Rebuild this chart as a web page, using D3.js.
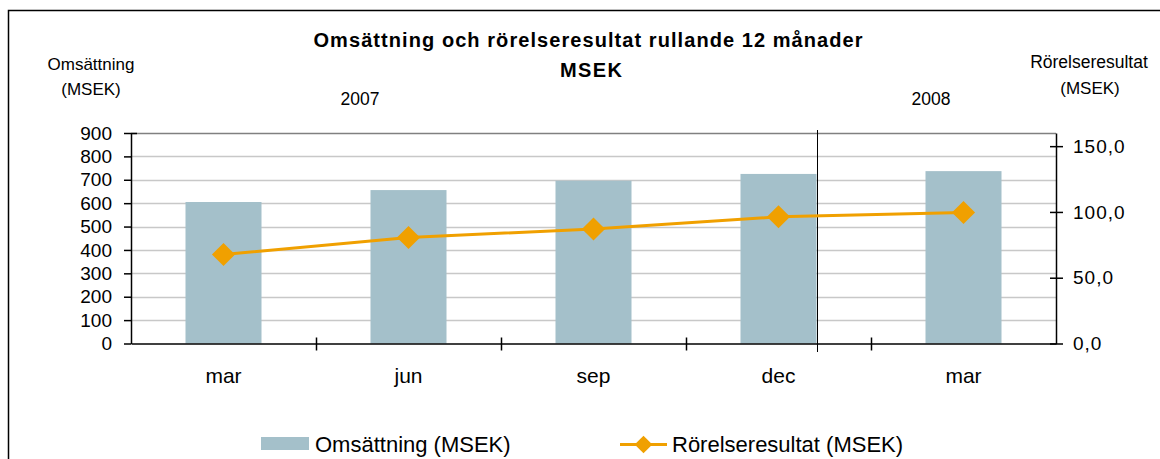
<!DOCTYPE html>
<html>
<head>
<meta charset="utf-8">
<script src="https://cdn.jsdelivr.net/npm/d3@7"></script>
<style>
  body { margin: 0; background: #fff; }
  text { font-family: "Liberation Sans", Arial, sans-serif; fill: #000; }
</style>
</head>
<body>
<script>
// data
var categories = ["mar", "jun", "sep", "dec", "mar "];
var catLabels = ["mar", "jun", "sep", "dec", "mar"];
var omsattning = [605, 656, 696, 725, 737];
var rorelse = [67.7, 80.6, 87.0, 96.3, 99.6];
var leftTicks = [0, 100, 200, 300, 400, 500, 600, 700, 800, 900];
var rightTicks = [0, 50, 100, 150];

var W = 1160, H = 459;
var plotL = 131, plotR = 1056, plotT = 133, plotB = 343.5;

var svg = d3.select("body").append("svg")
  .attr("width", W).attr("height", H);

// outer border
svg.append("rect")
  .attr("x", 8.5).attr("y", 10.5)
  .attr("width", 1170).attr("height", 470)
  .attr("fill", "none").attr("stroke", "#000").attr("stroke-width", 1.5);

var x = d3.scaleBand().domain(categories).range([plotL, plotR]);
var yL = d3.scaleLinear().domain([0, 900]).range([plotB, plotT]);
var yR = d3.scaleLinear().domain([0, 160]).range([plotB, plotT]);
var barW = 76;

// gridlines
svg.append("g").selectAll("line")
  .data(leftTicks.slice(1))
  .join("line")
  .attr("x1", plotL).attr("x2", plotR)
  .attr("y1", d => Math.round(yL(d)) + 0.5).attr("y2", d => Math.round(yL(d)) + 0.5)
  .attr("stroke", d => d == 900 ? "#808080" : "#c8c8c8")
  .attr("stroke-width", 1.5);

// bars
svg.append("g").selectAll("rect")
  .data(omsattning)
  .join("rect")
  .attr("x", (d, i) => x(categories[i]) + x.bandwidth() / 2 - barW / 2)
  .attr("y", d => yL(d))
  .attr("width", barW)
  .attr("height", d => yL(0) - yL(d))
  .attr("fill", "#a4c0ca");

// year divider between dec and mar
var divX = Math.round(x("dec") + x.bandwidth() / 2 + barW / 2) + 0.5;
svg.append("line")
  .attr("x1", divX).attr("x2", divX)
  .attr("y1", 130).attr("y2", 352)
  .attr("stroke", "#000").attr("stroke-width", 1);

// left axis
var gL = svg.append("g").attr("transform", "translate(" + plotL + ",0)")
  .call(d3.axisLeft(yL).tickValues(leftTicks).tickSize(0).tickPadding(19));
gL.select(".domain").attr("stroke", "#000").attr("stroke-width", 1.5);
gL.selectAll("text").style("font-size", "19px").attr("fill", "#000");
gL.selectAll(".tick").append("line")
  .attr("x1", -7).attr("x2", d => d == 900 ? 6 : 0).attr("stroke", "#000").attr("stroke-width", 1.5);

// right axis
var gR = svg.append("g").attr("transform", "translate(" + plotR + ",0)")
  .call(d3.axisRight(yR).tickValues(rightTicks).tickSize(0).tickPadding(17)
    .tickFormat(d => d3.format(".1f")(d).replace(".", ",")));
gR.select(".domain").attr("stroke", "#000").attr("stroke-width", 1.5);
gR.selectAll("text").style("font-size", "19px").style("letter-spacing", "1px").attr("fill", "#000");
gR.selectAll(".tick").append("line")
  .attr("x1", -6).attr("x2", 7).attr("stroke", "#000").attr("stroke-width", 1.5);

// bottom axis
var gB = svg.append("g").attr("transform", "translate(0," + plotB + ")")
  .call(d3.axisBottom(x).tickSize(0).tickPadding(25).tickFormat((d, i) => catLabels[i]));
gB.select(".domain").attr("stroke", "#000").attr("stroke-width", 1.5);
gB.selectAll("text").style("font-size", "21px").attr("fill", "#000");
svg.append("g").selectAll("line")
  .data(categories.slice(1))
  .join("line")
  .attr("x1", d => Math.round(x(d)) + 0.5).attr("x2", d => Math.round(x(d)) + 0.5)
  .attr("y1", plotB - 6).attr("y2", plotB + 7)
  .attr("stroke", "#000").attr("stroke-width", 1.5);

// line series
var line = d3.line()
  .x((d, i) => x(categories[i]) + x.bandwidth() / 2)
  .y(d => yR(d));
svg.append("path")
  .datum(rorelse)
  .attr("d", line)
  .attr("fill", "none").attr("stroke", "#f0a000").attr("stroke-width", 3);
svg.append("g").selectAll("path")
  .data(rorelse)
  .join("path")
  .attr("transform", (d, i) => "translate(" + (x(categories[i]) + x.bandwidth() / 2) + "," + yR(d) + ")")
  .attr("d", d3.symbol(d3.symbolDiamond2, 340))
  .attr("fill", "#f0a000");

// titles
svg.append("text").attr("x", 588).attr("y", 47).attr("text-anchor", "middle")
  .attr("textLength", 549).attr("lengthAdjust", "spacing")
  .style("font-size", "20px").style("font-weight", "bold")
  .text("Omsättning och rörelseresultat rullande 12 månader");
svg.append("text").attr("x", 591).attr("y", 77).attr("text-anchor", "middle")
  .attr("textLength", 62).attr("lengthAdjust", "spacing")
  .style("font-size", "20px").style("font-weight", "bold").text("MSEK");

svg.append("text").attr("x", 91).attr("y", 70).attr("text-anchor", "middle")
  .style("font-size", "17px").text("Omsättning");
svg.append("text").attr("x", 91).attr("y", 95).attr("text-anchor", "middle")
  .style("font-size", "17px").text("(MSEK)");
svg.append("text").attr("x", 1089).attr("y", 68).attr("text-anchor", "middle")
  .style("font-size", "17.5px").text("Rörelseresultat");
svg.append("text").attr("x", 1090).attr("y", 94).attr("text-anchor", "middle")
  .style("font-size", "17px").text("(MSEK)");
svg.append("text").attr("x", 360).attr("y", 105).attr("text-anchor", "middle")
  .style("font-size", "17.5px").text("2007");
svg.append("text").attr("x", 931).attr("y", 105).attr("text-anchor", "middle")
  .style("font-size", "17.5px").text("2008");

// legend
var lg = svg.append("g");
lg.append("rect").attr("x", 261).attr("y", 437).attr("width", 48).attr("height", 13)
  .attr("fill", "#a4c0ca");
lg.append("text").attr("x", 315).attr("y", 451.5).style("font-size", "22px")
  .text("Omsättning (MSEK)");
lg.append("line").attr("x1", 620).attr("x2", 667).attr("y1", 444.5).attr("y2", 444.5)
  .attr("stroke", "#f0a000").attr("stroke-width", 3);
lg.append("path").attr("transform", "translate(643.5,444.5)")
  .attr("d", d3.symbol(d3.symbolDiamond2, 200)).attr("fill", "#f0a000");
lg.append("text").attr("x", 672).attr("y", 451.5).style("font-size", "22px")
  .text("Rörelseresultat (MSEK)");
</script>
</body>
</html>
